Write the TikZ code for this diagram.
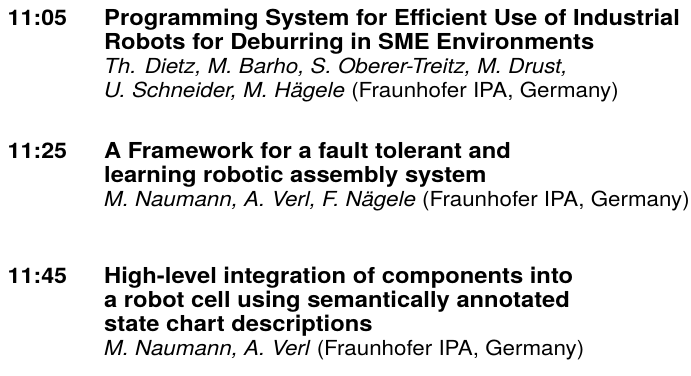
\documentclass[tikz,border=0pt]{standalone}
\usepackage{fontspec}
\setmainfont{TeX Gyre Heros}[FakeStretch=1.08]
\usetikzlibrary{positioning}
\tikzstyle{slot}=[anchor=base west,inner sep=0pt,font=\fontsize{21.5}{24}\selectfont\bfseries]
\tikzstyle{ttl}=[anchor=base west,inner sep=0pt,font=\fontsize{22}{24}\selectfont\bfseries]
\tikzstyle{auth}=[anchor=base west,inner sep=0pt,font=\fontsize{20.7}{24}\selectfont]

\begin{document}
\begin{tikzpicture}[x=1pt,y=-1pt]
\useasboundingbox (0,0) rectangle (691,375);
% first talk
\node (T1) [slot] at (7.5,25) {11:05};
\node (A1) [ttl] at (104,25) {Programming System for Efficient Use of Industrial};
\node (A2) [ttl] at (104,49) {Robots for Deburring in SME Environments};
\node (A3) [auth] at (104,73) {\itshape Th. Dietz, M. Barho, S. Oberer-Treitz, M. Drust,};
\node (A4) [auth] at (104,97) {\textit{U. Schneider, M. Hägele} (Fraunhofer IPA, Germany)};
% second talk
\node (T2) [slot] at (7.5,158) {11:25};
\node (B1) [ttl] at (104,158) {A Framework for a fault tolerant and};
\node (B2) [ttl] at (104,182) {learning robotic assembly system};
\node (B3) [auth] at (104,206) {\textit{M. Naumann, A. Verl, F. Nägele} (Fraunhofer IPA, Germany)};
% third talk
\node (T3) [slot] at (7.5,283) {11:45};
\node (C1) [ttl] at (104,283) {High-level integration of components into};
\node (C2) [ttl] at (104,307) {a robot cell using semantically annotated};
\node (C3) [ttl] at (104,331) {state chart descriptions};
\node (C4) [auth] at (104,355) {\textit{M. Naumann, A. Verl} (Fraunhofer IPA, Germany)};
\end{tikzpicture}
\end{document}
